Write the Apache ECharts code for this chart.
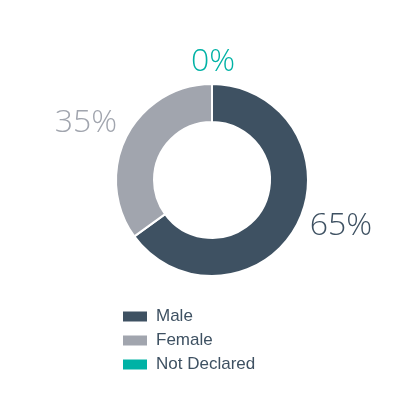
<!DOCTYPE html>
<html><head><meta charset="utf-8">
<script src="https://cdn.jsdelivr.net/npm/echarts@6/dist/echarts.min.js"></script>
<style>html,body{margin:0;padding:0;background:#fff}#c{width:400px;height:399px}</style>
</head><body><div id="c"></div>
<script>
const categories = ['Male', 'Female', 'Not Declared'];
const values = [65, 35, 0];
const colors = ['#3e5162', '#a1a5ae', '#00b2a5'];
// label centre offsets from pie centre (layout, not data)
const labelOffsets = [[129, 46], [-126, -57], [1, -118]];
const cx = 212, cy = 180;
const chart = echarts.init(document.getElementById('c'));
chart.setOption({
  animation: false,
  legend: {
    orient: 'vertical', left: 121, top: 308, padding: 0,
    itemWidth: 26, itemHeight: 12, itemGap: 7,
    icon: 'rect',
    textStyle: { color: '#3e5162', fontSize: 17, fontFamily: 'Liberation Sans', padding: [0, 0, 0, 3] },
    data: categories
  },
  series: [{
    type: 'pie',
    center: [cx, cy],
    radius: [58, 96],
    startAngle: 90,
    clockwise: true,
    avoidLabelOverlap: false,
    itemStyle: { borderColor: '#fff', borderWidth: 2 },
    label: {
      show: true, position: 'outside',
      formatter: '{d}%',
      fontSize: 32, fontFamily: 'Open Sans', fontWeight: 300
    },
    labelLine: { show: false },
    labelLayout: function (p) {
      const o = labelOffsets[p.dataIndex];
      return { x: cx + o[0], y: cy + o[1], align: 'center', verticalAlign: 'middle' };
    },
    emphasis: { disabled: true },
    data: categories.map((n, i) => ({
      name: n, value: values[i],
      itemStyle: { color: colors[i] },
      label: { color: colors[i] }
    }))
  }]
});
</script></body></html>
